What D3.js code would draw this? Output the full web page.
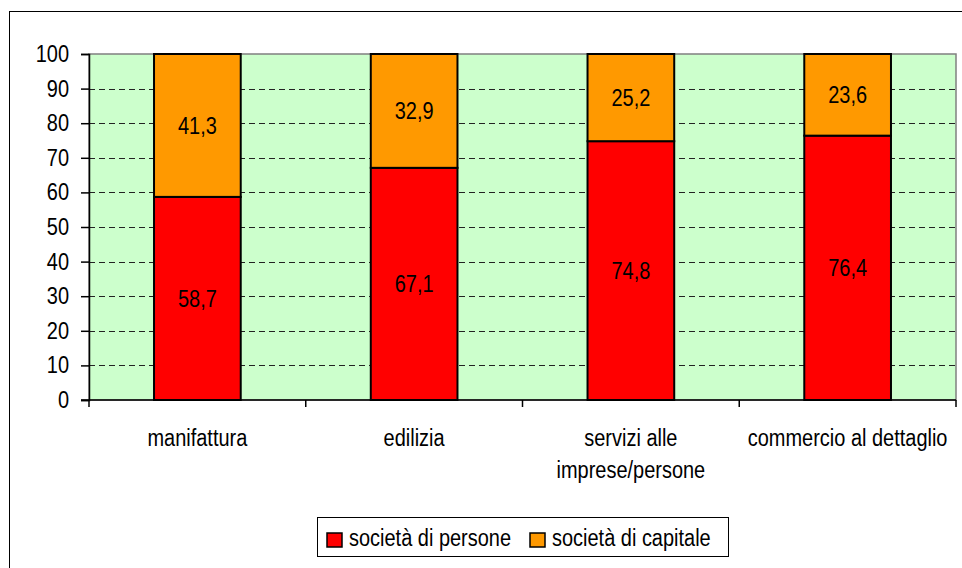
<!DOCTYPE html>
<html>
<head>
<meta charset="utf-8">
<script src="https://cdn.jsdelivr.net/npm/d3@7"></script>
<style>
body { margin: 0; background: #fff; }
svg text { font-family: "Liberation Sans", Arial, sans-serif; fill: #000; }
</style>
</head>
<body>
<svg id="chart"></svg>
<script>
var width = 962;
var height = 568;

var categories = ["manifattura", "edilizia", "servizi alle imprese/persone", "commercio al dettaglio"];
var catLines = [["manifattura"], ["edilizia"], ["servizi alle", "imprese/persone"], ["commercio al dettaglio"]];
var persone = [58.7, 67.1, 74.8, 76.4];
var capitale = [41.3, 32.9, 25.2, 23.6];
var seriesNames = ["società di persone", "società di capitale"];
var seriesColors = ["#ff0000", "#ff9900"];
var yTicks = [0, 10, 20, 30, 40, 50, 60, 70, 80, 90, 100];

var plot = {left: 89, right: 956, top: 54, bottom: 400};
var fontSize = 23.5;
var squeeze = 0.85; // narrow face: squash Liberation Sans horizontally

var svg = d3.select("#chart")
	.attr("width", width)
	.attr("height", height);

// squash text horizontally so it looks like a narrow font
function narrow(sel) {
	sel.each(function() {
		var el = d3.select(this);
		var x0 = +el.attr("x") || 0;
		el.attr("x", x0 / squeeze)
		.attr("transform", "scale(" + squeeze + ",1)");
		el.selectAll("tspan").each(function() {
			var ts = d3.select(this);
			if (ts.attr("x") != null) ts.attr("x", +ts.attr("x") / squeeze);
		});
	});
}

// outer chart frame (runs off the right and bottom edge)
svg.append("rect")
	.attr("x", 9.5).attr("y", 11.5)
	.attr("width", width + 10).attr("height", height + 10)
	.attr("fill", "#fff")
	.attr("stroke", "#000")
	.attr("stroke-width", 1);

var x = d3.scaleBand()
	.domain(categories)
	.range([plot.left, plot.right])
	.paddingInner(0.6)
	.paddingOuter(0.3);

var xOuter = d3.scaleBand()
	.domain(categories)
	.range([plot.left, plot.right]);

var y = d3.scaleLinear()
	.domain([0, 100])
	.range([plot.bottom, plot.top]);

// plot background
svg.append("rect")
	.attr("x", plot.left).attr("y", plot.top)
	.attr("width", plot.right - plot.left)
	.attr("height", plot.bottom - plot.top)
	.attr("fill", "#ccffcc")
	.attr("stroke", "#808080")
	.attr("stroke-width", 1.5);

// dashed gridlines
svg.append("g")
	.selectAll("line")
	.data(yTicks.filter(function(d) { return d > 0 && d < 100; }))
	.enter()
	.append("line")
	.attr("x1", plot.left).attr("x2", plot.right)
	.attr("y1", function(d) { return Math.round(y(d)) + 0.5; })
	.attr("y2", function(d) { return Math.round(y(d)) + 0.5; })
	.attr("stroke", "#222")
	.attr("stroke-width", 1)
	.attr("stroke-dasharray", "6,4");

// stacked bars
var rows = categories.map(function(c, i) {
	return {cat: c, persone: persone[i], capitale: capitale[i]};
});
var stack = d3.stack().keys(["persone", "capitale"]);
var layers = stack(rows);

var gBars = svg.append("g");
layers.forEach(function(layer, li) {
	gBars.selectAll("rect.s" + li)
	.data(layer)
	.enter()
	.append("rect")
	.attr("class", "s" + li)
	.attr("x", function(d) { return x(d.data.cat); })
	.attr("y", function(d) { return y(d[1]); })
	.attr("width", x.bandwidth())
	.attr("height", function(d) { return y(d[0]) - y(d[1]); })
	.attr("fill", seriesColors[li])
	.attr("stroke", "#000")
	.attr("stroke-width", 2);

	gBars.selectAll("text.s" + li)
	.data(layer)
	.enter()
	.append("text")
	.attr("class", "s" + li)
	.attr("x", function(d) { return x(d.data.cat) + x.bandwidth() / 2; })
	.attr("y", function(d) { return (y(d[0]) + y(d[1])) / 2 + 8.5; })
	.attr("text-anchor", "middle")
	.attr("font-size", fontSize)
	.text(function(d) { return d3.format(".1f")(d[1] - d[0]).replace(".", ","); })
	.call(narrow);
});

// y axis
var yAxis = d3.axisLeft(y)
	.tickValues(yTicks)
	.tickSize(8)
	.tickPadding(12);
var gy = svg.append("g")
	.attr("transform", "translate(" + plot.left + ",0)")
	.call(yAxis);
gy.select(".domain").attr("stroke", "#000").attr("stroke-width", 1.5);
gy.selectAll(".tick line").attr("stroke", "#000").attr("stroke-width", 1.5);
gy.selectAll(".tick text")
	.attr("font-size", fontSize)
	.call(narrow);

// x axis line and ticks between categories
svg.append("line")
	.attr("x1", plot.left - 8).attr("x2", plot.right)
	.attr("y1", plot.bottom).attr("y2", plot.bottom)
	.attr("stroke", "#000").attr("stroke-width", 1.5);

var xTickPos = categories.map(function(c) { return xOuter(c); }).concat([plot.right]);
svg.append("g")
	.selectAll("line")
	.data(xTickPos)
	.enter()
	.append("line")
	.attr("x1", function(d) { return d; }).attr("x2", function(d) { return d; })
	.attr("y1", plot.bottom).attr("y2", plot.bottom + 7)
	.attr("stroke", "#000").attr("stroke-width", 1.5);

// category labels
var gLabels = svg.append("g");
catLines.forEach(function(lines, i) {
	var cx = xOuter(categories[i]) + xOuter.bandwidth() / 2;
	var t = gLabels.append("text")
	.attr("text-anchor", "middle")
	.attr("font-size", fontSize)
	.attr("x", cx)
	.attr("y", 446);
	lines.forEach(function(line, j) {
		t.append("tspan")
		.attr("x", cx)
		.attr("dy", j === 0 ? 0 : 32)
		.text(line);
	});
	t.call(narrow);
});

// legend
var legend = svg.append("g");
legend.append("rect")
	.attr("x", 317.5).attr("y", 517.5)
	.attr("width", 411).attr("height", 39)
	.attr("fill", "#fff")
	.attr("stroke", "#000")
	.attr("stroke-width", 1);

var legendX = [327, 530];
seriesNames.forEach(function(name, i) {
	legend.append("rect")
	.attr("x", legendX[i]).attr("y", 533)
	.attr("width", 15).attr("height", 14)
	.attr("fill", seriesColors[i])
	.attr("stroke", "#000")
	.attr("stroke-width", 1.5);
	legend.append("text")
	.attr("x", legendX[i] + 22)
	.attr("y", 546)
	.attr("font-size", fontSize)
	.text(name)
	.call(narrow);
});
</script>
</body>
</html>
